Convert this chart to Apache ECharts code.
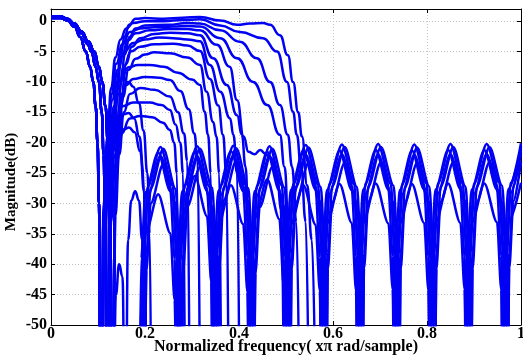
<!DOCTYPE html>
<html>
<head>
<meta charset="utf-8">
<script src="https://cdn.jsdelivr.net/npm/echarts@6/dist/echarts.min.js"></script>
<style>
html,body{margin:0;padding:0;background:#fff}
#chart{width:523px;height:356px}
</style>
</head>
<body>
<div id="chart"></div>
<script>
// first passband, three slightly different roll-offs (freq, dB)
var fbFast = [[0,0.5],[0.02,0.5],[0.035,0.1],[0.05,-0.9],[0.062,-2.6],[0.074,-5],[0.083,-7.5],[0.09,-10],[0.095,-14],[0.099,-20],[0.102,-30],[0.106,-80]];
var fbMid = [[0,0.6],[0.02,0.6],[0.035,0.3],[0.05,-0.5],[0.065,-2],[0.078,-3.8],[0.086,-5],[0.095,-7.5],[0.102,-10],[0.108,-15],[0.112,-22],[0.115,-32],[0.12,-80]];
var fbSlow = [[0,0.75],[0.02,0.75],[0.035,0.4],[0.05,-0.4],[0.065,-1.7],[0.08,-3.4],[0.092,-5],[0.102,-7.5],[0.109,-10],[0.116,-14],[0.121,-20],[0.125,-30],[0.132,-80]];

// second band of each response
var c01 = fbMid.concat([[0.124,-28],[0.131,-17],[0.14,-10],[0.148,-5.5],[0.157,-2.5],[0.166,-0.6],[0.18,0.4],[0.2,0.5],[0.24,0.4],[0.28,0.55],[0.317,0.7],[0.36,0.1],[0.396,-0.6],[0.423,-0.4],[0.451,-0.3],[0.466,-0.6],[0.487,-2.3],[0.504,-5.6],[0.515,-10],[0.526,-15],[0.534,-19],[0.545,-27],[0.555,-36],[0.565,-80]]);
var c02 = fbFast.concat([[0.112,-30],[0.12,-19],[0.128,-11],[0.137,-6],[0.148,-3],[0.16,-1.2],[0.175,-0.3],[0.2,0],[0.24,0],[0.28,0.2],[0.317,0.3],[0.36,-0.7],[0.402,-1.8],[0.451,-2.8],[0.481,-5],[0.502,-10],[0.515,-14.9],[0.523,-18.7],[0.532,-24],[0.542,-33],[0.55,-80]]);
var c03 = fbSlow.concat([[0.136,-28],[0.142,-17],[0.149,-10],[0.157,-5.5],[0.167,-2.6],[0.18,-1.2],[0.2,-0.7],[0.25,-0.6],[0.29,-0.3],[0.317,-0.4],[0.36,-1.5],[0.402,-3.4],[0.438,-6.1],[0.466,-10],[0.487,-13.8],[0.504,-18.7],[0.513,-24],[0.522,-33],[0.53,-80]]);
var c04 = fbFast.concat([[0.112,-32],[0.12,-20],[0.129,-12],[0.139,-7],[0.152,-3.8],[0.168,-1.8],[0.19,-1.2],[0.22,-1],[0.26,-0.9],[0.29,-0.8],[0.317,-0.9],[0.36,-2.8],[0.396,-6.1],[0.43,-10],[0.46,-13.8],[0.487,-18.7],[0.497,-24],[0.505,-33],[0.512,-80]]);
var c05 = fbMid.concat([[0.125,-28],[0.132,-18],[0.141,-10],[0.151,-5.8],[0.163,-3.2],[0.18,-2],[0.21,-1.5],[0.25,-1.3],[0.29,-1.3],[0.317,-1.5],[0.353,-3.9],[0.38,-7.5],[0.396,-13],[0.41,-19],[0.42,-21.5],[0.433,-21.9],[0.445,-21.2],[0.456,-21.8],[0.468,-22.5],[0.48,-25],[0.49,-31],[0.497,-80]]);
var c06 = fbSlow.concat([[0.136,-30],[0.142,-20],[0.15,-12],[0.16,-7],[0.172,-4.2],[0.19,-2.8],[0.22,-2.1],[0.253,-1.9],[0.29,-2],[0.317,-2.3],[0.345,-6.1],[0.374,-10.5],[0.396,-15.5],[0.406,-18.7],[0.414,-24],[0.42,-33],[0.426,-80]]);
var c07 = fbFast.concat([[0.112,-32],[0.12,-21],[0.13,-13],[0.142,-8],[0.156,-5],[0.175,-3.6],[0.2,-3],[0.23,-2.7],[0.26,-2.8],[0.29,-3],[0.317,-3.3],[0.338,-7.2],[0.36,-11.6],[0.381,-16],[0.388,-18.7],[0.396,-25],[0.402,-80]]);
var c08 = fbMid.concat([[0.125,-30],[0.133,-20],[0.143,-12],[0.155,-7.5],[0.17,-5],[0.19,-4.2],[0.22,-3.8],[0.26,-3.7],[0.29,-4],[0.317,-4.9],[0.338,-9.5],[0.356,-13.9],[0.366,-18.7],[0.373,-25],[0.379,-80]]);
var c09 = fbSlow.concat([[0.137,-30],[0.144,-20],[0.153,-12.5],[0.165,-8],[0.18,-6.2],[0.2,-5.5],[0.22,-5.1],[0.253,-5.3],[0.29,-6],[0.317,-7.2],[0.331,-11.6],[0.345,-16.6],[0.352,-19],[0.358,-25],[0.363,-80]]);
var c10 = fbFast.concat([[0.113,-32],[0.122,-22],[0.134,-14],[0.148,-9.5],[0.165,-7.6],[0.185,-7.2],[0.21,-7.2],[0.24,-7.5],[0.27,-8.5],[0.3,-9.6],[0.317,-10.5],[0.327,-14.9],[0.334,-18.7],[0.34,-25],[0.345,-80]]);
var c11 = fbMid.concat([[0.126,-32],[0.135,-22],[0.147,-14],[0.16,-10.5],[0.175,-9.5],[0.2,-9.2],[0.23,-9.3],[0.253,-9.7],[0.275,-11.5],[0.293,-14.5],[0.305,-18.5],[0.312,-23],[0.318,-80]]);
var c12 = fbSlow.concat([[0.137,-32],[0.145,-22],[0.155,-15],[0.168,-12],[0.19,-11],[0.22,-11.3],[0.253,-12.4],[0.27,-15],[0.283,-18.5],[0.29,-23],[0.296,-80]]);
var c13 = fbFast.concat([[0.114,-34],[0.124,-24],[0.137,-17],[0.152,-14],[0.175,-13.4],[0.21,-13.4],[0.235,-13.8],[0.253,-14.6],[0.265,-17],[0.275,-20],[0.281,-25],[0.286,-80]]);
var c14 = fbMid.concat([[0.127,-33],[0.137,-24],[0.15,-18.5],[0.168,-16],[0.19,-15.6],[0.215,-15.8],[0.238,-16.7],[0.253,-17.9],[0.262,-20],[0.268,-25],[0.273,-80]]);
var c15 = fbSlow.concat([[0.136,-30],[0.142,-18],[0.15,-12.5],[0.158,-10.3],[0.165,-10],[0.175,-10.8],[0.187,-13.5],[0.197,-18],[0.205,-25],[0.21,-35],[0.214,-80]]);
var c16 = fbFast.concat([[0.112,-40],[0.12,-30],[0.13,-22],[0.142,-17],[0.155,-15.3],[0.165,-15.1],[0.177,-16],[0.188,-19],[0.197,-25],[0.203,-80]]);
var c17 = fbMid.concat([[0.125,-35],[0.133,-25],[0.143,-20],[0.155,-17.8],[0.166,-17.5],[0.178,-18.3],[0.19,-21.5],[0.198,-28],[0.203,-80]]);
var c18 = fbSlow.concat([[0.138,-45],[0.145,-40],[0.152,-42],[0.158,-80],[0.164,-36],[0.171,-29.5],[0.179,-28],[0.187,-29.5],[0.194,-36],[0.199,-80]]);

// stopband ripple on three slightly offset frequency grids
var gridA = [0.194,0.197,0.206,0.233,0.259,0.268, 0.272,0.275,0.284,0.311,0.337,0.346,
  0.349,0.352,0.361,0.388,0.414,0.423, 0.426,0.429,0.438,0.465,0.491,0.500,
  0.503,0.506,0.515,0.542,0.568,0.577, 0.580,0.583,0.592,0.619,0.645,0.654,
  0.657,0.660,0.669,0.696,0.723,0.732, 0.735,0.738,0.747,0.773,0.799,0.808,
  0.811,0.814,0.823,0.850,0.876,0.885, 0.888,0.891,0.900,0.927,0.954,0.963,
  0.966,0.969,0.978,1.000];
var gridB = [0.200,0.203,0.212,0.239,0.265,0.274, 0.278,0.281,0.290,0.317,0.343,0.352,
  0.355,0.358,0.367,0.394,0.420,0.429, 0.432,0.435,0.444,0.471,0.497,0.506,
  0.509,0.512,0.521,0.548,0.574,0.583, 0.586,0.589,0.598,0.625,0.651,0.660,
  0.663,0.666,0.675,0.702,0.729,0.738, 0.741,0.744,0.753,0.779,0.805,0.814,
  0.817,0.820,0.829,0.856,0.882,0.891, 0.894,0.897,0.906,0.933,0.960,0.969,
  0.972,0.975,0.984,1.000];
var gridC = [0.189,0.192,0.201,0.228,0.254,0.263, 0.267,0.270,0.279,0.306,0.332,0.341,
  0.344,0.347,0.356,0.383,0.409,0.418, 0.421,0.424,0.433,0.460,0.486,0.495,
  0.498,0.501,0.510,0.537,0.563,0.572, 0.575,0.578,0.587,0.614,0.640,0.649,
  0.652,0.655,0.664,0.691,0.718,0.727, 0.730,0.733,0.742,0.768,0.794,0.803,
  0.806,0.809,0.818,0.845,0.871,0.880, 0.883,0.886,0.895,0.922,0.949,0.958,
  0.961,0.964,0.973,1.000];

var s1 = [-60,-38.2,-27.2,-20.7,-27.1,-38.3, -60,-38.1,-27.1,-20.6,-27.2,-38.0, -60,-38.0,-27.0,-20.5,-26.9,-38.1,
  -60,-38.1,-27.1,-20.6,-27.0,-38.2, -60,-37.9,-26.9,-20.4,-26.9,-37.8, -60,-37.8,-26.8,-20.3,-26.8,-37.9,
  -60,-37.7,-26.7,-20.2,-26.8,-37.7, -60,-37.8,-26.8,-20.3,-26.7,-37.8, -60,-37.7,-26.7,-20.2,-26.7,-37.6,
  -60,-37.7,-26.7,-20.2,-26.6,-37.7, -60,-37.6,-26.6,-20.1];
var s2 = [-60,-38.5,-27.5,-21.0,-27.6,-38.6, -60,-38.4,-27.5,-21.0,-27.4,-38.5, -60,-38.4,-27.4,-20.9,-27.5,-38.3,
  -60,-38.6,-27.5,-21.0,-27.4,-38.4, -60,-38.3,-27.3,-20.8,-27.3,-38.4, -60,-38.2,-27.2,-20.7,-27.3,-38.2,
  -60,-38.3,-27.2,-20.7,-27.1,-38.1, -60,-38.3,-27.3,-20.8,-27.2,-38.3, -60,-38.2,-27.2,-20.7,-27.2,-38.1,
  -60,-38.1,-27.2,-20.7,-27.1,-38.2, -60,-38.1,-27.1,-20.6];
var s3 = [-60,-39.0,-28.1,-21.6,-28.0,-39.1, -60,-39.1,-28.0,-21.5,-27.9,-39.0, -60,-38.9,-27.9,-21.4,-28.0,-38.8,
  -60,-39.0,-28.0,-21.5,-27.9,-38.9, -60,-38.8,-27.8,-21.3,-27.7,-38.8, -60,-38.7,-27.8,-21.3,-27.8,-38.7,
  -60,-38.6,-27.7,-21.2,-27.7,-38.6, -60,-38.8,-27.8,-21.3,-27.7,-38.7, -60,-38.7,-27.7,-21.2,-27.6,-38.7,
  -60,-38.6,-27.7,-21.2,-27.7,-38.6, -60,-38.6,-27.6,-21.1];
var s4 = [-60,-39.7,-28.7,-22.2,-28.6,-39.6, -60,-39.6,-28.7,-22.2,-28.7,-39.7, -60,-39.5,-28.6,-22.1,-28.5,-39.6,
  -60,-39.7,-28.7,-22.2,-28.6,-39.5, -60,-39.4,-28.5,-22.0,-28.4,-39.5, -60,-39.4,-28.4,-21.9,-28.4,-39.3,
  -60,-39.3,-28.4,-21.9,-28.3,-39.4, -60,-39.5,-28.5,-22.0,-28.4,-39.4, -60,-39.4,-28.4,-21.9,-28.4,-39.3,
  -60,-39.3,-28.4,-21.9,-28.3,-39.4, -60,-39.3,-28.3,-21.8];
var s5 = [-60,-41.0,-30.0,-23.5,-29.9,-40.9, -60,-41.5,-30.5,-24.0,-30.4,-41.6, -60,-40.5,-29.5,-23.0,-29.6,-40.5,
  -60,-41.5,-30.6,-24.0,-30.5,-41.4, -60,-40.8,-29.8,-23.3,-29.7,-40.9, -60,-40.8,-29.8,-23.3,-29.8,-40.7,
  -60,-40.7,-29.7,-23.2,-29.8,-40.7, -60,-40.8,-29.8,-23.3,-29.7,-40.8, -60,-40.7,-29.7,-23.2,-29.6,-40.7,
  -60,-40.7,-29.7,-23.2,-29.7,-40.6, -60,-40.6,-29.6,-23.1];
var s6 = [-60,-46.0,-35.0,-28.5,-34.9,-45.9, -60,-43.0,-32.0,-25.5,-32.1,-42.9, -60,-44.5,-33.5,-27.0,-33.4,-44.6,
  -60,-43.5,-32.5,-26.0,-32.6,-43.5, -60,-44.5,-33.5,-27.0,-33.5,-44.4, -60,-44.3,-33.3,-26.8,-33.2,-44.3,
  -60,-44.2,-33.2,-26.7,-33.3,-44.1, -60,-44.3,-33.3,-26.8,-33.2,-44.3, -60,-44.2,-33.2,-26.7,-33.2,-44.1,
  -60,-44.1,-33.2,-26.7,-33.1,-44.2, -60,-44.1,-33.1,-26.6];

var passCurves = [c01,c02,c03,c04,c05,c06,c07,c08,c09,c10,c11,c12,c13,c14,c15,c16,c17,c18];
var stopCurves = [[gridA,s1],[gridB,s2],[gridC,s3],[gridA,s4],[gridB,s5],[gridC,s6]];

var xTicks = ['0','0.2','0.4','0.6','0.8','1'];

var chart = echarts.init(document.getElementById('chart'));

var fontFam = '"Liberation Serif","Times New Roman",serif';
var lineStyle = {color:'#0000f5', width:2.5};

var series = [];
passCurves.forEach(function(d){
    series.push({type:'line', data:d, showSymbol:false, smooth:0.5, smoothMonotone:'x', lineStyle:lineStyle, silent:true});
});
stopCurves.forEach(function(p){
    var xs = p[0], ys = p[1];
    series.push({type:'line', data:xs.map(function(x,i){return [x, ys[i]];}), showSymbol:false, smooth:0.3, smoothMonotone:'x', lineStyle:lineStyle, silent:true});
});

var option = {
    animation:false,
    grid:{left:51, right:2, top:9, bottom:31, containLabel:false, outerBoundsMode:'none'},
    xAxis:[{
        type:'value', min:0, max:1, interval:0.2, position:'bottom',
        axisLine:{onZero:false, lineStyle:{color:'#000'}},
        axisTick:{inside:true, length:4, lineStyle:{color:'#000'}},
        axisLabel:{color:'#000', fontFamily:fontFam, fontWeight:'bold', fontSize:16, margin:1,
            formatter:function(v){ return xTicks[Math.round(v/0.2)]; }},
        splitLine:{show:true, lineStyle:{color:'#c4c4c4', type:[1,2]}},
        name:'Normalized frequency( x\u03c0 rad/sample)', nameLocation:'middle', nameGap:14, nameMoveOverlap:false,
        nameTextStyle:{color:'#000', fontFamily:fontFam, fontWeight:'bold', fontSize:16}
    },{
        type:'value', min:0, max:1, interval:0.2, position:'top',
        axisLine:{onZero:false, lineStyle:{color:'#000'}},
        axisTick:{inside:true, length:4, lineStyle:{color:'#000'}},
        axisLabel:{show:false}, splitLine:{show:false}
    }],
    yAxis:[{
        type:'value', min:-50, max:2, interval:5, position:'left',
        axisLine:{onZero:false, lineStyle:{color:'#000'}},
        axisTick:{inside:true, length:4, lineStyle:{color:'#000'}},
        axisLabel:{color:'#000', fontFamily:fontFam, fontWeight:'bold', fontSize:16, margin:4, showMaxLabel:false},
        splitLine:{show:true, lineStyle:{color:'#c4c4c4', type:[1,2]}}
    },{
        type:'value', min:-50, max:2, interval:5, position:'right',
        axisLine:{onZero:false, lineStyle:{color:'#000'}},
        axisTick:{inside:true, length:4, lineStyle:{color:'#000'}},
        axisLabel:{show:false}, splitLine:{show:false}
    }],
    graphic:[{
        type:'text', x:11, y:182, rotation:Math.PI/2,
        style:{text:'Magnitude(dB)', fill:'#000', font:'bold 15px ' + fontFam, textAlign:'center', textVerticalAlign:'middle'}
    }],
    series:series
};

chart.setOption(option);
</script>
</body>
</html>
